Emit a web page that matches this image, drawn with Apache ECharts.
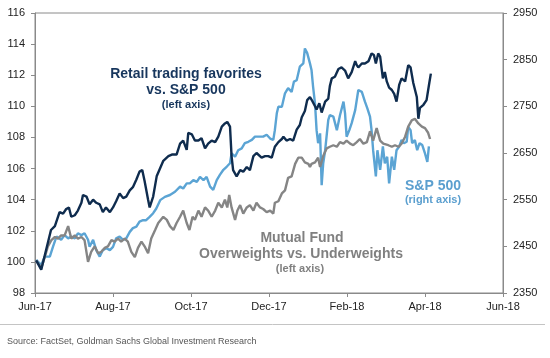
<!DOCTYPE html>
<html>
<head>
<meta charset="utf-8">
<script src="https://cdn.jsdelivr.net/npm/echarts@6/dist/echarts.min.js"></script>
<style>
  html, body { margin: 0; padding: 0; background: #ffffff; }
  #chart { width: 550px; height: 358px; }
</style>
</head>
<body>
<div id="chart"></div>
<script>
// x positions are months after the "Jun-17" tick
const xTickLabels = ['Jun-17', 'Aug-17', 'Oct-17', 'Dec-17', 'Feb-18', 'Apr-18', 'Jun-18'];
const leftAxisRange = [98, 116, 2];
const rightAxisRange = [2350, 2950, 100];

const retailT = [0.03,0.16,0.41,0.51,0.63,0.72,0.80,0.87,0.93,1.02,1.10,1.19,1.23,1.32,1.40,1.49,1.57,1.66,1.74,1.82,1.92,2.00,2.08,2.17,2.26,2.34,2.43,2.51,2.60,2.68,2.75,2.81,2.90,2.94,3.03,3.12,3.29,3.42,3.51,3.63,3.72,3.80,3.89,3.93,4.02,4.10,4.19,4.27,4.36,4.44,4.53,4.62,4.70,4.79,4.87,4.93,5.00,5.04,5.08,5.17,5.26,5.34,5.43,5.51,5.60,5.68,5.81,5.90,5.98,6.07,6.15,6.24,6.33,6.37,6.45,6.54,6.62,6.71,6.79,6.84,6.92,6.98,7.05,7.12,7.18,7.22,7.29,7.35,7.44,7.52,7.56,7.61,7.69,7.78,7.86,7.95,8.03,8.12,8.21,8.25,8.29,8.38,8.46,8.55,8.63,8.69,8.74,8.80,8.85,8.92,8.97,9.02,9.08,9.15,9.21,9.27,9.34,9.40,9.49,9.57,9.63,9.70,9.79,9.83,9.87,9.96,10.04,10.11,10.15];
const retailV = [100.1,99.5,102.05,102.3,103.2,103.1,103.4,103.5,102.9,103.0,103.3,103.8,104.3,104.2,103.7,104.0,103.8,103.7,103.2,103.5,103.2,103.5,103.9,104.4,104.1,104.2,104.6,104.8,105.3,105.8,105.9,105.2,104.0,103.5,104.2,105.5,106.5,106.8,106.9,106.9,107.6,107.8,107.2,108.3,108.2,107.8,107.8,107.95,107.3,107.6,107.8,107.7,108.05,108.7,108.9,109.0,108.7,106.8,105.9,105.5,105.9,105.8,106.1,105.9,106.8,107.0,106.7,106.8,106.8,106.7,107.4,107.7,107.9,108.05,107.8,107.9,107.8,108.5,108.8,109.3,109.7,110.4,110.6,110.3,110.0,109.8,110.2,109.6,110.3,110.5,111.3,111.8,111.9,112.4,112.5,112.3,111.8,112.2,112.9,112.65,112.5,112.75,112.75,112.9,113.4,113.3,112.75,113.4,113.2,111.8,112.2,111.6,111.2,111.05,110.8,110.3,111.4,111.8,111.6,112.65,112.5,111.5,110.6,109.2,109.9,110.1,110.4,111.5,112.1];

const spxT = [0.03,0.16,0.25,0.38,0.46,0.55,0.67,0.76,0.85,0.93,1.02,1.10,1.19,1.27,1.36,1.40,1.49,1.57,1.66,1.74,1.83,1.92,2.00,2.08,2.17,2.26,2.34,2.43,2.51,2.60,2.68,2.77,2.85,2.94,3.03,3.11,3.21,3.33,3.46,3.59,3.72,3.80,3.89,3.97,4.06,4.15,4.23,4.32,4.40,4.49,4.57,4.66,4.74,4.83,4.92,5.00,5.04,5.13,5.21,5.30,5.38,5.47,5.56,5.64,5.73,5.85,5.94,6.03,6.11,6.15,6.20,6.24,6.33,6.41,6.49,6.58,6.64,6.71,6.79,6.88,6.92,6.98,7.05,7.09,7.13,7.18,7.22,7.26,7.31,7.35,7.39,7.44,7.52,7.56,7.65,7.74,7.82,7.91,7.95,7.99,8.06,8.12,8.21,8.29,8.38,8.46,8.52,8.59,8.63,8.67,8.74,8.78,8.85,8.92,8.97,9.03,9.08,9.15,9.21,9.27,9.34,9.40,9.46,9.53,9.57,9.63,9.67,9.74,9.80,9.86,9.93,10.00,10.06,10.10];
const spxV = [2421,2410,2428,2428,2449,2471,2464,2474,2467,2471,2467,2478,2474,2478,2464,2449,2464,2442,2428,2442,2446,2442,2449,2467,2471,2464,2467,2481,2489,2492,2503,2506,2506,2513,2521,2531,2549,2556,2560,2567,2578,2574,2585,2585,2592,2588,2599,2592,2599,2578,2571,2592,2603,2614,2621,2628,2649,2642,2656,2660,2671,2674,2678,2685,2685,2685,2689,2681,2678,2699,2735,2749,2749,2778,2789,2781,2803,2806,2835,2842,2874,2864,2842,2828,2792,2756,2699,2671,2692,2581,2628,2656,2721,2731,2728,2699,2731,2760,2735,2685,2699,2714,2742,2785,2781,2760,2746,2728,2699,2656,2600,2656,2614,2664,2628,2642,2585,2642,2614,2656,2664,2678,2671,2674,2706,2699,2671,2678,2656,2671,2667,2649,2631,2664];

const fundT = [0.03,0.16,0.25,0.33,0.42,0.51,0.59,0.67,0.76,0.85,0.93,1.02,1.10,1.19,1.27,1.36,1.44,1.53,1.62,1.70,1.79,1.87,1.96,2.04,2.13,2.21,2.30,2.38,2.47,2.56,2.64,2.73,2.81,2.90,2.98,3.08,3.16,3.29,3.38,3.46,3.55,3.63,3.72,3.80,3.89,3.96,4.04,4.10,4.19,4.27,4.36,4.44,4.53,4.62,4.70,4.79,4.87,4.93,4.98,5.04,5.13,5.19,5.26,5.34,5.43,5.51,5.60,5.68,5.77,5.85,5.94,6.03,6.11,6.15,6.24,6.33,6.41,6.49,6.58,6.67,6.75,6.84,6.92,7.01,7.05,7.09,7.18,7.26,7.31,7.39,7.48,7.56,7.65,7.74,7.82,7.91,7.99,8.08,8.16,8.25,8.33,8.42,8.51,8.59,8.67,8.76,8.85,8.93,9.06,9.15,9.23,9.32,9.40,9.49,9.57,9.66,9.74,9.83,9.92,10.00,10.08,10.13];
const fundV = [100.1,99.6,100.3,101.0,101.4,101.6,101.5,101.7,101.7,102.3,101.5,101.7,101.5,101.6,101.4,100.0,100.65,101.0,100.55,100.65,100.9,101.0,101.4,101.3,101.5,101.3,101.5,101.3,100.65,100.3,100.9,101.3,101.0,100.55,101.5,102.05,102.5,102.9,102.7,102.3,102.05,102.5,102.9,103.3,102.5,102.05,102.9,102.7,103.3,102.9,103.5,103.3,102.9,103.3,103.8,103.5,104.0,103.5,104.3,103.5,102.7,103.3,103.65,103.1,103.5,103.65,103.3,103.8,103.5,103.4,103.2,103.3,103.1,103.8,103.9,104.4,104.6,105.4,105.5,106.3,106.7,106.7,106.4,106.3,106.1,106.3,106.4,106.7,106.1,106.8,107.3,107.4,107.5,107.4,107.7,107.6,107.8,107.6,107.5,107.7,107.9,107.6,107.7,108.4,107.8,108.6,107.8,107.6,107.5,107.4,107.5,107.4,107.6,108.05,108.7,109.1,109.2,108.9,108.7,108.6,108.3,107.9];

function pairs(t, v) { return t.map((x, i) => [x, v[i]]); }

const FONT = 'Liberation Sans, Arial, Helvetica, sans-serif';
const NAVY = '#0f2c4e';
const BLUE = '#5ba4d4';
const GRAY = '#858585';

const chart = echarts.init(document.getElementById('chart'), null, { renderer: 'canvas' });

const axisCommon = {
  axisLine: { show: true, lineStyle: { color: '#8a8a8a', width: 1 } },
  axisTick: { show: true, inside: false, length: 4, lineStyle: { color: '#8a8a8a' } },
  splitLine: { show: false },
  axisLabel: { color: '#222', fontFamily: FONT, fontSize: 11 }
};

chart.setOption({
  animation: false,
  backgroundColor: '#ffffff',
  grid: {
    left: 35, right: 47, top: 13, bottom: 65,
    show: true, borderColor: '#8a8a8a', borderWidth: 1, backgroundColor: 'transparent'
  },
  xAxis: {
    type: 'value', min: 0, max: 12, interval: 2,
    ...axisCommon,
    axisLabel: { ...axisCommon.axisLabel, margin: 8,
      formatter: v => xTickLabels[Math.round(v / 2)] || '' }
  },
  yAxis: [
    {
      type: 'value', position: 'left',
      min: leftAxisRange[0], max: leftAxisRange[1], interval: leftAxisRange[2],
      ...axisCommon,
      axisLabel: { ...axisCommon.axisLabel, margin: 10, formatter: v => String(v) }
    },
    {
      type: 'value', position: 'right',
      min: rightAxisRange[0], max: rightAxisRange[1], interval: rightAxisRange[2],
      ...axisCommon,
      axisLabel: { ...axisCommon.axisLabel, margin: 10, formatter: v => String(v) }
    }
  ],
  series: [
    {
      name: 'S&P 500', type: 'line', yAxisIndex: 1, showSymbol: false,
      data: pairs(spxT, spxV),
      lineStyle: { color: BLUE, width: 2.4 }, z: 2
    },
    {
      name: 'Mutual Fund Overweights vs. Underweights', type: 'line', yAxisIndex: 0, showSymbol: false,
      data: pairs(fundT, fundV),
      lineStyle: { color: GRAY, width: 2.4 }, z: 3
    },
    {
      name: 'Retail trading favorites vs. S&P 500', type: 'line', yAxisIndex: 0, showSymbol: false,
      data: pairs(retailT, retailV),
      lineStyle: { color: NAVY, width: 2.4 }, z: 4
    }
  ],
  graphic: [
    { type: 'text', x: 186, y: 74, style: { text: 'Retail trading favorites', fill: '#17365d', font: 'bold 14px ' + FONT, align: 'center', verticalAlign: 'middle' } },
    { type: 'text', x: 186, y: 90, style: { text: 'vs. S&P 500', fill: '#17365d', font: 'bold 14px ' + FONT, align: 'center', verticalAlign: 'middle' } },
    { type: 'text', x: 186, y: 105, style: { text: '(left axis)', fill: '#17365d', font: 'bold 11px ' + FONT, align: 'center', verticalAlign: 'middle' } },
    { type: 'text', x: 433, y: 186, style: { text: 'S&P 500', fill: '#5b9fcf', font: 'bold 14px ' + FONT, align: 'center', verticalAlign: 'middle' } },
    { type: 'text', x: 433, y: 200, style: { text: '(right axis)', fill: '#5b9fcf', font: 'bold 11px ' + FONT, align: 'center', verticalAlign: 'middle' } },
    { type: 'text', x: 302, y: 238, style: { text: 'Mutual Fund', fill: '#808080', font: 'bold 14px ' + FONT, align: 'center', verticalAlign: 'middle' } },
    { type: 'text', x: 301, y: 254, style: { text: 'Overweights vs. Underweights', fill: '#808080', font: 'bold 14px ' + FONT, align: 'center', verticalAlign: 'middle' } },
    { type: 'text', x: 300, y: 269, style: { text: '(left axis)', fill: '#808080', font: 'bold 11px ' + FONT, align: 'center', verticalAlign: 'middle' } },
    { type: 'line', shape: { x1: 0, y1: 324.5, x2: 545, y2: 324.5 }, style: { stroke: '#c4c4c4', lineWidth: 1 } },
    { type: 'text', x: 7, y: 342, style: { text: 'Source: FactSet, Goldman Sachs Global Investment Research', fill: '#555', font: '9px Liberation Sans Narrow, Arial Narrow, ' + FONT, align: 'left', verticalAlign: 'middle' } }
  ]
});
</script>
</body>
</html>
